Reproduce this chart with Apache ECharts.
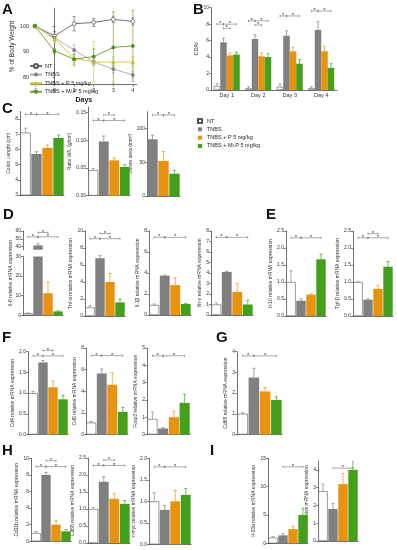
<!DOCTYPE html>
<html><head><meta charset="utf-8">
<script src="https://cdn.jsdelivr.net/npm/echarts@6/dist/echarts.min.js"></script>
<style>html,body{margin:0;padding:0;background:#fff}#c{width:397px;height:550px}</style>
</head><body><div id="c"></div>
<script>
// ---------------- DATA ----------------
const groupNames = ['NT','TNBS','TNBS + P 5 mg/kg','TNBS + Mi.P 5 mg/kg'];
// A: body weight
const days = [-1,0,1,2,3,4];
const weightTicks = [80,90,100];
const weightNT = [100,96.1,100.9,101.4,102.6,101.8];
const weightNTErr = [0,1.7,2.8,1.6,1.2,1.4];
const weightTNBS = [100,95.4,90.6,85.9,83.1,80.8];
const weightTNBSErr = [0,1.5,2,1.5,1.5,1.5];
const weightP = [100,95.0,87.3,85.9,85.9,85.9];
const weightPErr = [0,1.5,3,8,2,2];
const weightMiP = [100,90.2,87.0,88.0,91.6,92.2];
const weightMiPErr = [0,1,2,3,14,14];
// B: CDAI
const cdaiDays = ['Day 1','Day 2','Day 3','Day 4'];
const cdaiTicks = [0,2,4,6,8,10];
const cdaiNT = [0.5,0.2,0.4,0.2], cdaiNTErr = [0.3,0.2,0.35,0.2];
const cdaiTNBS = [5.8,6.2,6.6,7.3], cdaiTNBSErr = [0.5,0.5,0.6,1.0];
const cdaiP = [4.2,4.1,4.7,4.7], cdaiPErr = [0.3,0.4,0.5,0.6];
const cdaiMiP = [4.3,4.0,3.2,2.7], cdaiMiPErr = [0.3,0.4,0.5,0.5];
const cdaiSig = [[0,0,1,8.0],[0,1,3,8.0],[0,1,2,7.5],[1,0,1,8.4],[1,1,3,8.4],[1,1,2,7.9],[2,0,1,9.0],[2,1,3,9.0],[3,0,1,9.6],[3,1,3,9.6]];
// C
const colonLength = [7.1,5.7,6.1,6.75], colonLengthErr = [0.3,0.15,0.2,0.2], colonTicks=[3,4,5,6,7,8];
const colonSig = [[0,1,8.3],[1,3,8.3]];
const ratioWL = [0.046,0.098,0.064,0.052], ratioWLErr = [0.003,0.01,0.004,0.004], ratioTicks=[0,0.05,0.10,0.15];
const ratioSig = [[0,1,0.136],[1,3,0.136],[1,2,0.146]];
const ulcerGroups = [1,2,3];
const ulcerArea = [84,52,33], ulcerAreaErr = [6,14,5], ulcerTicks=[0,50,100];
const ulcerSig = [[0,1,120],[1,2,120]];
// D
const il6 = [1.0,41.5,11.3,2.0], il6Err = [0.3,2,5.5,0.3], il6LowTicks=[0,10,20,30], il6HighTicks=[40,50,60];
const il6Sig = [[0,1,52.5],[1,3,52.5],[1,2,58]];
const tnf = [1.0,6.8,4.0,1.6], tnfErr = [0.2,0.3,1.0,0.4], tnfTicks=[0,2,4,6,8,10];
const tnfSig = [[0,1,9.1],[1,3,9.1],[1,2,9.7]];
const il1b = [0.95,3.75,2.85,1.05], il1bErr = [0.1,0.05,0.7,0.05], il1bTicks=[0,2,4,6,8];
const il1bSig = [[0,1,7.4],[1,3,7.4]];
const ifng = [1.0,4.1,2.2,1.0], ifngErr = [0.15,0.05,0.8,0.4], ifngTicks=[0,1,2,3,4,5,6,7,8];
const ifngSig = [[0,1,7.4],[1,3,7.4]];
// E
const il10 = [1.0,0.45,0.63,1.67], il10Err = [0.33,0.05,0.02,0.15], il10Ticks=[0,0.5,1.0,1.5,2.0,2.5];
const il10Sig = [[0,1,2.3],[1,3,2.3]];
const tgfb = [1.0,0.48,0.8,1.45], tgfbErr = [0.02,0.03,0.1,0.15], tgfbTicks=[0,0.5,1.0,1.5,2.0,2.5];
const tgfbSig = [[0,1,2.3],[1,3,2.3],[1,2,2.42]];
// F
const cd4 = [1.0,1.74,1.14,0.85], cd4Err = [0.04,0.05,0.15,0.1], cd4Ticks=[0,0.5,1.0,1.5,2.0];
const cd4Sig = [[0,1,1.9],[1,3,1.9],[1,2,2.03]];
const cd8 = [1.1,5.65,4.6,2.1], cd8Err = [0.1,0.4,1.1,0.4], cd8Ticks=[0,2,4,6,8];
const cd8Sig = [[0,1,7.3],[1,3,7.3]];
const foxp3 = [0.9,0.35,1.0,1.83], foxp3Err = [0.4,0.05,0.35,0.5], foxp3Ticks=[0,1,2,3,4,5];
const foxp3Sig = [[0,1,4.55],[1,3,4.55]];
// G
const cd69 = [1.0,2.75,2.08,1.67], cd69Err = [0.05,0.45,0.2,0.15], cd69Ticks=[0,1,2,3,4];
const cd69Sig = [[0,1,3.8],[1,3,3.8]];
// H
const cd11b = [1.0,8.0,2.0,1.2], cd11bErr = [0.2,0.3,0.5,0.2], cd11bTicks=[0,2,4,6,8,10];
const cd11bSig = [[0,1,9.0],[1,3,9.0],[1,2,9.7]];
const cd68 = [1.0,1.8,1.3,1.15], cd68Err = [0.05,0.15,0.15,0.1], cd68Ticks=[0,0.5,1.0,1.5,2.0,2.5];
const cd68Sig = [[0,1,2.28],[1,3,2.28],[1,2,2.44]];
const cmyc = [1.0,0.8,1.0,1.15], cmycErr = [0.2,0.1,0.25,0.15], cmycTicks=[0,0.5,1.0,1.5,2.0];
const cmycSig = [[0,1,1.8],[1,3,1.8]];
// I
const il33a = [1.0,1.4,2.5,5.0], il33aErr = [0.2,0.3,0.5,1.2], il33aTicks=[0,5,10,15];
const il33aSig = [[1,3,13.5]];
const il33b = [2.8,1.8,3.2,4.0], il33bErr = [0.4,0.3,0.6,0.5], il33bTicks=[0,1,2,3,4];
const il33bSig = [[1,3,4.1]];

// ---------------- STYLE / LAYOUT ----------------
const fillColors = ['#ffffff','#808080','#e8930f','#42a01c'];
const errColors = ['#888888','#808080','#e8930f','#42a01c'];
const lineColors = ['#6f6f6f','#b9a9b1','#cfcf45','#7fa43a'];
const markColors = ['#ffffff','#8a7f88','#c8c02a','#4d8f1f'];
const markSymbols = ['circle','circle','triangle','circle'];
const AXC = '#333';
const FONT = 'Liberation Sans, Arial, sans-serif';

const grid=[], xAxis=[], yAxis=[], series=[], graphic=[];
function addGrid(r){grid.push({left:r[0],top:r[1],width:r[2],height:r[3]});return grid.length-1;}
function yAx(gi,min,max,ticks,dec,name,gap){
  return {type:'value',gridIndex:gi,min:min,max:max,splitLine:{show:false},
    axisLine:{show:true,lineStyle:{color:AXC,width:0.7}},
    axisTick:{show:true,length:2,lineStyle:{color:AXC,width:0.6},customValues:ticks},
    axisLabel:{fontSize:5,margin:2,color:AXC,customValues:ticks,formatter:v=>Number(v).toFixed(dec)},
    name:name,nameLocation:'middle',nameRotate:90,nameGap:gap,nameTextStyle:{fontSize:5,color:AXC}};
}
function errRenderSimple(params,api){
  const i=api.value(0),v=api.value(1),e=api.value(2),c=errColors[api.value(3)];
  const p0=api.coord([i,v]),p1=api.coord([i,v+e]);
  return {type:'group',children:[
    {type:'line',shape:{x1:p0[0],y1:p0[1],x2:p1[0],y2:p1[1]},style:{stroke:c,lineWidth:0.7}},
    {type:'line',shape:{x1:p1[0]-1.6,y1:p1[1],x2:p1[0]+1.6,y2:p1[1]},style:{stroke:c,lineWidth:0.7}}]};
}
function sigShape(xa,xb,y){
  return [
    {type:'line',shape:{x1:xa,y1:y,x2:xb,y2:y},style:{stroke:'#555',lineWidth:0.5}},
    {type:'line',shape:{x1:xa,y1:y-1.2,x2:xa,y2:y+1.2},style:{stroke:'#555',lineWidth:0.5}},
    {type:'line',shape:{x1:xb,y1:y-1.2,x2:xb,y2:y+1.2},style:{stroke:'#555',lineWidth:0.5}},
    {type:'text',x:(xa+xb)/2,y:y-0.5,style:{text:'*',fontSize:6,fill:'#333',align:'center',verticalAlign:'middle',fontFamily:FONT}}];
}
function sigRenderSimple(params,api){
  const a=api.coord([api.value(0),api.value(2)]),b=api.coord([api.value(1),api.value(2)]);
  return {type:'group',children:sigShape(a[0],b[0],a[1])};
}
function barPanel(p){
  const gi=addGrid(p.rect);
  const cats=p.cats||[0,1,2,3];
  xAxis.push({type:'category',gridIndex:gi,data:cats.map(String),axisTick:{show:false},axisLabel:{show:false},
    axisLine:{show:p.hideX?false:true,lineStyle:{color:AXC,width:0.7}}});
  yAxis.push(yAx(gi,p.min,p.max,p.ticks,p.dec,p.name||'',p.gap||10));
  series.push({type:'bar',xAxisIndex:gi,yAxisIndex:gi,barCategoryGap:'6%',silent:true,clip:true,
    data:p.vals.map((v,k)=>({value:v,itemStyle:{color:fillColors[cats[k]],borderColor:cats[k]===0?'#555':fillColors[cats[k]],borderWidth:cats[k]===0?0.6:0}}))});
  series.push({type:'custom',xAxisIndex:gi,yAxisIndex:gi,clip:true,silent:true,encode:{x:0,y:1},
    renderItem:errRenderSimple,data:p.vals.map((v,k)=>[k,v,p.errs[k],cats[k]])});
  if(p.sig) series.push({type:'custom',xAxisIndex:gi,yAxisIndex:gi,silent:true,encode:{x:0,y:2},
    renderItem:sigRenderSimple,data:p.sig});
}

// ---------- A ----------
const gA=addGrid([31,8.15,105.8,76.5]);
xAxis.push({type:'value',gridIndex:gA,min:-1.2,max:4.2,splitLine:{show:false},
  axisLine:{show:true,onZero:false,lineStyle:{color:AXC,width:0.7}},
  axisTick:{show:true,length:2,customValues:days,lineStyle:{color:AXC,width:0.6}},
  axisLabel:{customValues:days,fontSize:5.5,margin:3,color:AXC},
  name:'Days',nameLocation:'middle',nameGap:12,nameTextStyle:{fontSize:7,fontWeight:'bold',color:'#222'}});
yAxis.push(yAx(gA,77,107,weightTicks,0,'% of Body Weight',12));
yAxis[yAxis.length-1].nameTextStyle.fontSize=6.5;
yAxis[yAxis.length-1].axisLabel.fontSize=5.5;
const weightSets=[[weightNT,weightNTErr],[weightTNBS,weightTNBSErr],[weightP,weightPErr],[weightMiP,weightMiPErr]];
weightSets.forEach((s,k)=>{
  series.push({type:'custom',xAxisIndex:gA,yAxisIndex:gA,silent:true,z:1,encode:{x:0,y:1},
    data:days.map((d,i)=>[d,s[0][i],s[1][i]]),
    renderItem:(params,api)=>{
      const x=api.value(0),v=api.value(1),e=api.value(2);
      if(!e) return null;
      const a=api.coord([x,v+e]),b=api.coord([x,v-e]);
      const c=k===0?'#666':lineColors[k];
      return {type:'group',children:[
        {type:'line',shape:{x1:a[0],y1:a[1],x2:b[0],y2:b[1]},style:{stroke:c,lineWidth:0.7}},
        {type:'line',shape:{x1:a[0]-1.5,y1:a[1],x2:a[0]+1.5,y2:a[1]},style:{stroke:c,lineWidth:0.7}},
        {type:'line',shape:{x1:b[0]-1.5,y1:b[1],x2:b[0]+1.5,y2:b[1]},style:{stroke:c,lineWidth:0.7}}]};
    }});
  series.push({type:'line',name:'A|'+groupNames[k],xAxisIndex:gA,yAxisIndex:gA,z:3,
    data:days.map((d,i)=>[d,s[0][i]]),symbol:markSymbols[k],symbolSize:k===2?4.5:3.8,
    lineStyle:{color:lineColors[k],width:1},
    itemStyle:{color:markColors[k],borderColor:k===0?'#555':markColors[k],borderWidth:k===0?0.7:0}});
});

// ---------- B ----------
const gB=addGrid([211,7.7,126,82.3]);
const cdBarW=6.5;
xAxis.push({type:'category',gridIndex:gB,data:cdaiDays,axisTick:{show:false},
  axisLabel:{fontSize:5.5,margin:2,color:AXC},axisLine:{lineStyle:{color:AXC,width:0.7}}});
yAxis.push(yAx(gB,0,10,cdaiTicks,0,'CDAI',8));
yAxis[yAxis.length-1].nameTextStyle.fontSize=5.5;
const cdaiSets=[[cdaiNT,cdaiNTErr],[cdaiTNBS,cdaiTNBSErr],[cdaiP,cdaiPErr],[cdaiMiP,cdaiMiPErr]];
cdaiSets.forEach((s,k)=>{
  series.push({type:'bar',name:'B|'+groupNames[k],xAxisIndex:gB,yAxisIndex:gB,barWidth:cdBarW,barGap:'0%',silent:true,
    data:s[0],itemStyle:{color:fillColors[k],borderColor:k===0?'#555':fillColors[k],borderWidth:k===0?0.6:0}});
});
const cdaiErrData=[];
cdaiSets.forEach((s,k)=>s[0].forEach((v,d)=>cdaiErrData.push([d,k,v,s[1][d]])));
series.push({type:'custom',xAxisIndex:gB,yAxisIndex:gB,silent:true,encode:{x:0,y:2},data:cdaiErrData,
  renderItem:(params,api)=>{
    const d=api.value(0),k=api.value(1),v=api.value(2),e=api.value(3);
    const p0=api.coord([d,v]),p1=api.coord([d,v+e]);const x=p0[0]+(k-1.5)*cdBarW;const c=errColors[k];
    return {type:'group',children:[
      {type:'line',shape:{x1:x,y1:p0[1],x2:x,y2:p1[1]},style:{stroke:c,lineWidth:0.7}},
      {type:'line',shape:{x1:x-1.5,y1:p1[1],x2:x+1.5,y2:p1[1]},style:{stroke:c,lineWidth:0.7}}]};
  }});
series.push({type:'custom',xAxisIndex:gB,yAxisIndex:gB,silent:true,encode:{x:0,y:3},data:cdaiSig,
  renderItem:(params,api)=>{
    const d=api.value(0),a=api.value(1),b=api.value(2),y=api.value(3);
    const p=api.coord([d,y]);
    return {type:'group',children:sigShape(p[0]+(a-1.5)*cdBarW,p[0]+(b-1.5)*cdBarW,p[1])};
  }});

// ---------- C ----------
barPanel({rect:[20,111.4,44,83.6],min:3,max:8.5,ticks:colonTicks,dec:0,name:'Colon Lenght (cm)',gap:8,vals:colonLength,errs:colonLengthErr,sig:colonSig});
barPanel({rect:[88,107.2,42,88.5],min:0,max:0.16,ticks:ratioTicks,dec:2,name:'Ratio W/L (g/cm)',gap:14,vals:ratioWL,errs:ratioWLErr,sig:ratioSig});
barPanel({rect:[147,111.6,33,84.4],min:0,max:125,ticks:ulcerTicks,dec:0,name:'Ulcere area (mm²)',gap:11,vals:ulcerArea,errs:ulcerAreaErr,cats:ulcerGroups,sig:ulcerSig});

// ---------- D ----------
barPanel({rect:[23,256.5,40,58.8],min:0,max:30,ticks:il6LowTicks,dec:0,name:'',gap:8,vals:il6,errs:il6Err});
barPanel({rect:[23,231,40,18.7],min:36,max:60,ticks:il6HighTicks,dec:0,name:'',gap:8,vals:il6,errs:il6Err,sig:il6Sig,hideX:true});
barPanel({rect:[85,231,40,85],min:0,max:10,ticks:tnfTicks,dec:0,name:'Tnf-α relative mRNA expression',gap:8,vals:tnf,errs:tnfErr,sig:tnfSig});
barPanel({rect:[149,231,42,84],min:0,max:8,ticks:il1bTicks,dec:0,name:'Il-1β relative mRNA expression',gap:7,vals:il1b,errs:il1bErr,sig:il1bSig});
barPanel({rect:[211,231,42,84],min:0,max:8,ticks:ifngTicks,dec:0,name:'Ifn-γ relative mRNA expression',gap:7,vals:ifng,errs:ifngErr,sig:ifngSig});
// ---------- E ----------
barPanel({rect:[286,231,40,85],min:0,max:2.5,ticks:il10Ticks,dec:1,name:'Il-10 relative mRNA expression',gap:10,vals:il10,errs:il10Err,sig:il10Sig});
barPanel({rect:[353,231,40,85],min:0,max:2.5,ticks:tgfbTicks,dec:1,name:'Tgf-β relative mRNA expression',gap:10,vals:tgfb,errs:tgfbErr,sig:tgfbSig});
// ---------- F ----------
barPanel({rect:[28,351.7,40,82.8],min:0,max:2,ticks:cd4Ticks,dec:1,name:'Cd4 relative mRNA expression',gap:10,vals:cd4,errs:cd4Err,sig:cd4Sig});
barPanel({rect:[86,348,42,86.5],min:0,max:8,ticks:cd8Ticks,dec:0,name:'Cd8 relative mRNA expression',gap:7,vals:cd8,errs:cd8Err,sig:cd8Sig});
barPanel({rect:[147,348,43,86.5],min:0,max:5,ticks:foxp3Ticks,dec:0,name:'Foxp3 relative mRNA expression',gap:7,vals:foxp3,errs:foxp3Err,sig:foxp3Sig});
// ---------- G ----------
barPanel({rect:[237,351.7,45,82.8],min:0,max:4,ticks:cd69Ticks,dec:0,name:'Cd69 relative mRNA expression',gap:7,vals:cd69,errs:cd69Err,sig:cd69Sig});
// ---------- H ----------
barPanel({rect:[31,458.3,40,83],min:0,max:10,ticks:cd11bTicks,dec:0,name:'Cd11b relative mRNA expression',gap:8,vals:cd11b,errs:cd11bErr,sig:cd11bSig});
barPanel({rect:[88,458,42,85],min:0,max:2.5,ticks:cd68Ticks,dec:1,name:'Cd68 relative mRNA expression',gap:10,vals:cd68,errs:cd68Err,sig:cd68Sig});
barPanel({rect:[149,458.3,42,86],min:0,max:2,ticks:cmycTicks,dec:1,name:'c-myc relative mRNA expression',gap:10,vals:cmyc,errs:cmycErr,sig:cmycSig});
// ---------- I ----------
barPanel({rect:[268,458.3,40,85],min:0,max:15,ticks:il33aTicks,dec:0,name:'Il-33a relative mRNA expression',gap:8,vals:il33a,errs:il33aErr,sig:il33aSig});
barPanel({rect:[318,461,40,80],min:0,max:4.5,ticks:il33bTicks,dec:0,name:'Il-33b relative mRNA expression',gap:7,vals:il33b,errs:il33bErr,sig:il33bSig});

// ---------- letters & extra text ----------
[['A',2,2],['B',193,2],['C',2,101],['D',3,207],['E',266,207],['F',2,330],['G',216,330],['H',2,443],['I',210,443]].forEach(l=>{
  graphic.push({type:'text',x:l[1],y:l[2],style:{text:l[0],fontSize:15,fontWeight:'bold',fill:'#111',fontFamily:FONT}});
});
graphic.push({type:'text',x:11,y:273,rotation:Math.PI/2,style:{text:'Il-6 relative mRNA expression',fontSize:5,fill:AXC,align:'center',verticalAlign:'middle',fontFamily:FONT}});

const option={
  animation:false,
  textStyle:{fontFamily:FONT},
  grid:grid,xAxis:xAxis,yAxis:yAxis,series:series,graphic:graphic,
  legend:[
    {left:24,top:58,orient:'vertical',itemWidth:12,itemHeight:5,itemGap:2.6,selectedMode:false,
      data:groupNames.map(n=>'A|'+n),formatter:n=>n.split('|')[1],textStyle:{fontSize:5.5,color:'#222',padding:[0,0,0,-2]}},
    {left:192,top:113,orient:'vertical',icon:'rect',itemWidth:4,itemHeight:4,itemGap:2.3,selectedMode:false,
      data:groupNames.map(n=>'B|'+n),formatter:n=>n.split('|')[1],textStyle:{fontSize:5.5,color:'#222'}}
  ]
};
const chart=echarts.init(document.getElementById('c'),null,{renderer:'canvas'});
chart.setOption(option);
</script></body></html>
